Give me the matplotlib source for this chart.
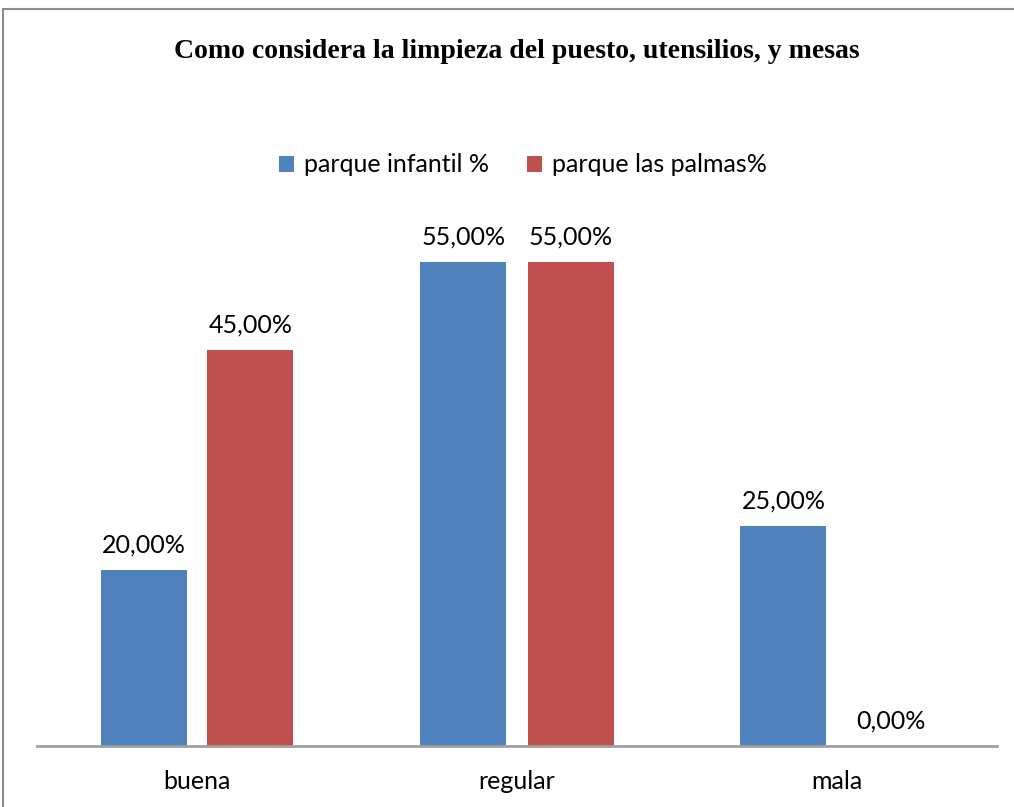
import matplotlib
matplotlib.use("Agg")
import matplotlib.pyplot as plt
from matplotlib.patches import Rectangle, Patch
import numpy as np

categories = ["buena", "regular", "mala"]
series_names = ["parque infantil %", "parque las palmas%"]
infantil = [20.0, 55.0, 25.0]
palmas = [45.0, 55.0, 0.0]
colors = ["#4F81BD", "#C0504D"]

W, H = 1014, 807
fig = plt.figure(figsize=(W / 100, H / 100), dpi=100)
fig.patch.set_facecolor("white")

# outer border (chart area frame, partially cropped)
fig.patches.append(Rectangle((3 / W, -0.1), 1.2, (H - 9) / H + 0.1,
                             transform=fig.transFigure, fill=False,
                             edgecolor="#8c8c8c", linewidth=1.5))

ax = fig.add_axes([37 / W, (H - 746) / H, 960 / W, (746 - 218) / H])
x = np.arange(len(categories))
bw = 86 / 320
off = 53.5 / 320
font = ["Lato", "DejaVu Sans"]

for vals, c, o in [(infantil, colors[0], -off), (palmas, colors[1], off)]:
    bars = ax.bar(x + o, vals, width=bw, color=c, zorder=2)
    for b, v in zip(bars, vals):
        ax.annotate(f"{v:.2f}%".replace(".", ","),
                    (b.get_x() + b.get_width() / 2, v),
                    xytext=(0, 10), textcoords="offset points",
                    ha="center", va="bottom", fontsize=18, family=font,
                    color="black")

ax.set_xlim(-0.5, 2.5)
ax.set_ylim(0, 60)
for s in ["top", "right", "left"]:
    ax.spines[s].set_visible(False)
ax.spines["bottom"].set_color("#a0a0a0")
ax.spines["bottom"].set_linewidth(2)
ax.set_yticks([])
ax.set_xticks(x)
ax.set_xticklabels(categories, fontsize=18, family=font)
ax.tick_params(axis="x", length=0, pad=17)

fig.text(517 / W, (H - 51) / H, "Como considera la limpieza del puesto, utensilios, y mesas",
         ha="center", va="center", fontsize=20, fontweight="bold",
         family=["Liberation Serif", "DejaVu Serif"])

handles = [Patch(facecolor=colors[0]), Patch(facecolor=colors[1])]
fig.legend(handles, series_names, loc="center", bbox_to_anchor=(523 / W, (H - 165) / H),
           ncol=2, frameon=False, prop={"family": font, "size": 18},
           handlelength=0.6, handleheight=0.6, handletextpad=0.4, columnspacing=1.5)

fig.savefig("out.png", dpi=100)
